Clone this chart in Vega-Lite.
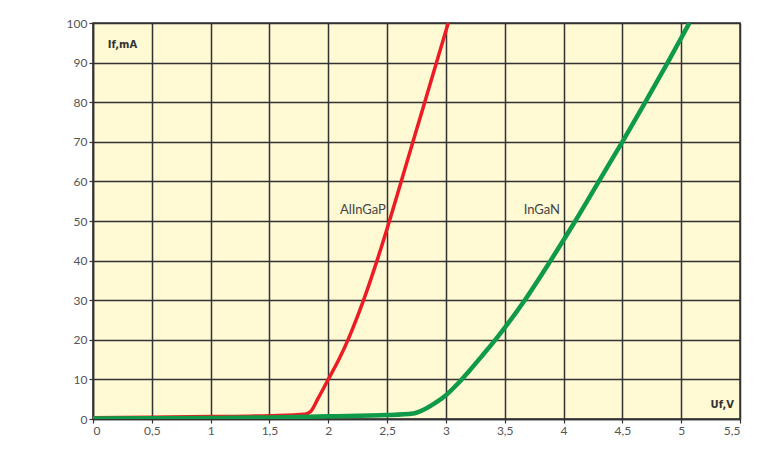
{
  "$schema": "https://vega.github.io/schema/vega-lite/v6.json",
  "autosize": {"type": "none"},
  "width": 647,
  "height": 396,
  "padding": {"left": 93, "top": 23, "right": 42, "bottom": 31},
  "background": "white",
  "config": {
    "view": {"fill": "#FFF9D4", "stroke": "#333333", "strokeWidth": 1.5},
    "axis": {
      "gridColor": "#333333", "gridWidth": 1.5, "gridOpacity": 1,
      "domainColor": "#333333", "domainWidth": 1.5,
      "tickColor": "#333333", "tickSize": 4, "tickWidth": 1.2,
      "labelColor": "#555555", "labelFont": "Lato", "labelFontSize": 12,
      "labelPadding": 2, "labelOverlap": false,
      "title": null
    }
  },
  "datasets": {
    "curves": [
      {"series": "AlInGaP", "u": 0, "i": 0.3},
      {"series": "AlInGaP", "u": 0.5, "i": 0.45},
      {"series": "AlInGaP", "u": 1.0, "i": 0.6},
      {"series": "AlInGaP", "u": 1.5, "i": 0.85},
      {"series": "AlInGaP", "u": 1.8, "i": 1.2},
      {"series": "AlInGaP", "u": 1.85, "i": 1.9},
      {"series": "AlInGaP", "u": 1.91, "i": 5},
      {"series": "AlInGaP", "u": 2.0, "i": 10},
      {"series": "AlInGaP", "u": 2.09, "i": 15},
      {"series": "AlInGaP", "u": 2.175, "i": 20.5},
      {"series": "AlInGaP", "u": 2.3, "i": 30},
      {"series": "AlInGaP", "u": 2.42, "i": 40.5},
      {"series": "AlInGaP", "u": 2.52, "i": 50},
      {"series": "AlInGaP", "u": 2.62, "i": 60},
      {"series": "AlInGaP", "u": 2.72, "i": 70},
      {"series": "AlInGaP", "u": 2.82, "i": 80},
      {"series": "AlInGaP", "u": 2.92, "i": 90},
      {"series": "AlInGaP", "u": 3.02, "i": 100},
      {"series": "InGaN", "u": 0, "i": 0.1},
      {"series": "InGaN", "u": 1.0, "i": 0.25},
      {"series": "InGaN", "u": 1.5, "i": 0.4},
      {"series": "InGaN", "u": 2.0, "i": 0.7},
      {"series": "InGaN", "u": 2.5, "i": 1.0},
      {"series": "InGaN", "u": 2.72, "i": 1.4},
      {"series": "InGaN", "u": 2.8, "i": 2.2},
      {"series": "InGaN", "u": 2.9, "i": 3.9},
      {"series": "InGaN", "u": 3.0, "i": 6.0},
      {"series": "InGaN", "u": 3.1, "i": 8.9},
      {"series": "InGaN", "u": 3.2, "i": 12.2},
      {"series": "InGaN", "u": 3.3, "i": 15.7},
      {"series": "InGaN", "u": 3.42, "i": 20},
      {"series": "InGaN", "u": 3.67, "i": 30},
      {"series": "InGaN", "u": 3.89, "i": 40},
      {"series": "InGaN", "u": 4.1, "i": 50},
      {"series": "InGaN", "u": 4.3, "i": 60},
      {"series": "InGaN", "u": 4.5, "i": 70},
      {"series": "InGaN", "u": 4.695, "i": 80},
      {"series": "InGaN", "u": 4.885, "i": 90},
      {"series": "InGaN", "u": 5.07, "i": 100}
    ],
    "labels": [
      {"u": 2.49, "i": 52.8, "text": "AlInGaP"},
      {"u": 3.97, "i": 52.8, "text": "InGaN"}
    ],
    "titles": [
      {"u": 0.25, "i": 94.4, "text": "If,mA"},
      {"u": 5.35, "i": 3.6, "text": "Uf,V"}
    ]
  },
  "encoding": {
    "x": {"field": "u", "type": "quantitative",
          "scale": {"domain": [0, 5.5], "nice": false, "zero": false},
          "axis": {"values": [0, 0.5, 1, 1.5, 2, 2.5, 3, 3.5, 4, 4.5, 5, 5.5],
                   "labelExpr": "replace(toString(datum.value), '.', ',')"}},
    "y": {"field": "i", "type": "quantitative",
          "scale": {"domain": [0, 100], "nice": false},
          "axis": {"values": [0, 10, 20, 30, 40, 50, 60, 70, 80, 90, 100]}}
  },
  "layer": [
    {
      "data": {"name": "curves"},
      "mark": {"type": "line", "interpolate": "monotone", "clip": true},
      "encoding": {
        "color": {"field": "series", "type": "nominal",
                  "scale": {"domain": ["AlInGaP", "InGaN"], "range": ["#EC1C24", "#0E9A48"]},
                  "legend": null},
        "strokeWidth": {"field": "series", "type": "nominal",
                        "scale": {"domain": ["AlInGaP", "InGaN"], "range": [3.5, 4.5]},
                        "legend": null},
        "order": {"field": "series", "sort": "descending"}
      }
    },
    {
      "data": {"name": "labels"},
      "mark": {"type": "text", "align": "right", "baseline": "middle", "font": "Lato", "fontSize": 13, "color": "#444444"},
      "encoding": {
        "text": {"field": "text"}
      }
    },
    {
      "data": {"name": "titles"},
      "mark": {"type": "text", "align": "center", "baseline": "middle", "font": "DejaVu Sans", "fontSize": 10, "fontWeight": "bold", "color": "#333333"},
      "encoding": {
        "text": {"field": "text"}
      }
    }
  ]
}
